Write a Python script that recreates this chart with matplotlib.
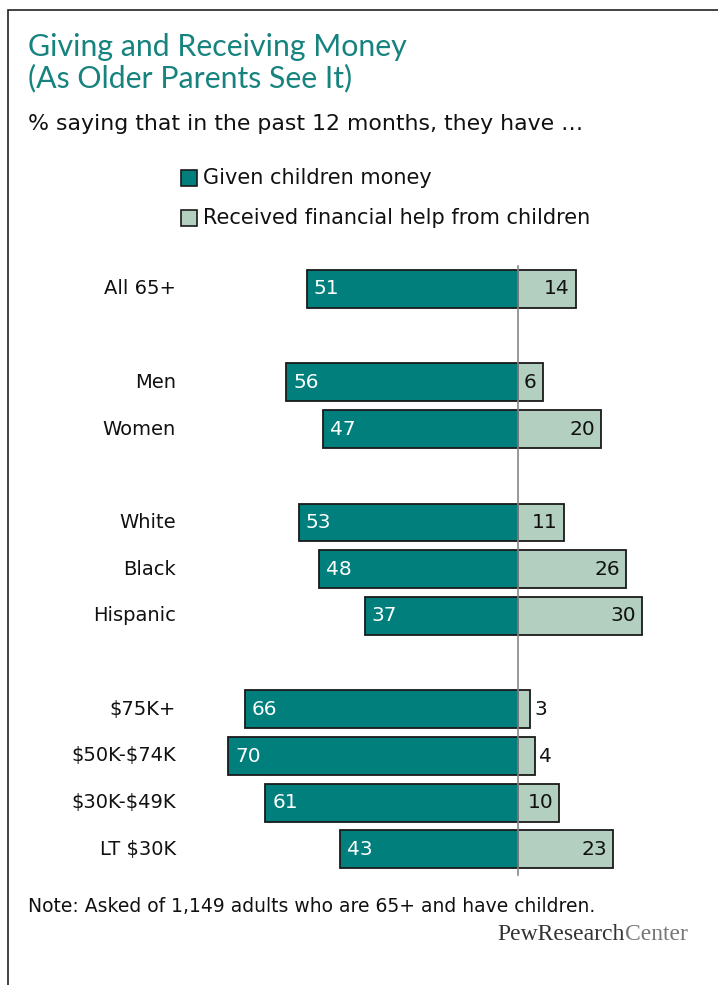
import matplotlib.pyplot as plt
from matplotlib.patches import Rectangle

# data
categories = ['All 65+', 'Men', 'Women', 'White', 'Black', 'Hispanic',
              r'\$75K+', r'\$50K-\$74K', r'\$30K-\$49K', r'LT \$30K']
rows = [0, 2, 3, 5, 6, 7, 9, 10, 11, 12]
given = [51, 56, 47, 53, 48, 37, 66, 70, 61, 43]
received = [14, 6, 20, 11, 26, 30, 3, 4, 10, 23]

DARK = '#007f7c'
LIGHT = '#b2cfbf'
TEAL_TXT = '#16837f'
FONT = 'DejaVu Sans'
TFONT = 'Lato'

W, H = 718, 985
CX = 518.0        # pixel x of the zero line
PX_PER = 4.14     # pixels per percentage point
Y0 = 289.0        # pixel y of first row
ROW = 46.7        # pixels per row

fig = plt.figure(figsize=(W / 100, H / 100), dpi=100)
ax = fig.add_axes([0, 0, 1, 1])
ax.set_xlim(-CX / PX_PER, (W - CX) / PX_PER)
ax.set_ylim((H - Y0) / ROW, -Y0 / ROW)
ax.axis('off')

def fx(px):
    return px / W

def fy(py):
    return 1 - py / H

# frame
fig.patches.append(Rectangle((fx(8), fy(990)), 1.0, fy(10) - fy(990),
                             transform=fig.transFigure, fill=False,
                             edgecolor='#222222', linewidth=1.2))

# bars
ax.barh(rows, [-g for g in given], height=0.81, color=DARK,
        edgecolor='#1a1a1a', linewidth=1.3, zorder=2)
ax.barh(rows, received, height=0.81, color=LIGHT,
        edgecolor='#1a1a1a', linewidth=1.3, zorder=2)
ax.plot([0, 0], [-0.5, 12.55], color='#888888', linewidth=1.2, zorder=3)

pp = 1 / PX_PER
for r, cat, g, v in zip(rows, categories, given, received):
    ax.text(-g + 7 * pp, r, str(g), color='white', ha='left', va='center',
            fontsize=14.5, family=FONT, zorder=4)
    if v >= 5:
        ax.text(v - 6 * pp, r, str(v), color='#111111', ha='right',
                va='center', fontsize=14.5, family=FONT, zorder=4)
    else:
        ax.text(v + 4 * pp, r, str(v), color='#111111', ha='left',
                va='center', fontsize=14.5, family=FONT, zorder=4)
    fig.text(fx(176), fy(Y0 + r * ROW), cat, ha='right', va='center',
             fontsize=14, family=FONT, color='#111111')

# titles
fig.text(fx(28), fy(47), 'Giving and Receiving Money', color=TEAL_TXT,
         fontsize=21.8, family=TFONT, va='center', ha='left')
fig.text(fx(28), fy(78), '(As Older Parents See It)', color=TEAL_TXT,
         fontsize=21.8, family=TFONT, va='center', ha='left')
fig.text(fx(28), fy(124), '% saying that in the past 12 months, they have \u2026',
         color='#111111', fontsize=15.8, family=FONT, va='center', ha='left')

# legend
for py, lab, col in [(178, 'Given children money', DARK),
                     (218, 'Received financial help from children', LIGHT)]:
    fig.patches.append(Rectangle((fx(181), fy(py + 8)), 16 / W, 16 / H,
                                 transform=fig.transFigure, facecolor=col,
                                 edgecolor='#1a1a1a', linewidth=1.2))
    fig.text(fx(203), fy(py), lab, fontsize=15, family=FONT,
             color='#111111', va='center', ha='left')

# note and logo
fig.text(fx(28), fy(907), 'Note: Asked of 1,149 adults who are 65+ and have children.',
         fontsize=13.5, family=FONT, color='#111111', va='center', ha='left')
center = fig.text(fx(688), fy(935), 'Center', fontsize=17,
                  family='Liberation Serif', color='#777777',
                  va='center', ha='right')
bb = center.get_window_extent(renderer=fig.canvas.get_renderer())
fig.text(bb.x0 / W, fy(935), 'PewResearch', fontsize=17,
         family='Liberation Serif', color='#333333', va='center', ha='right')

fig.savefig('out.png', dpi=100)
